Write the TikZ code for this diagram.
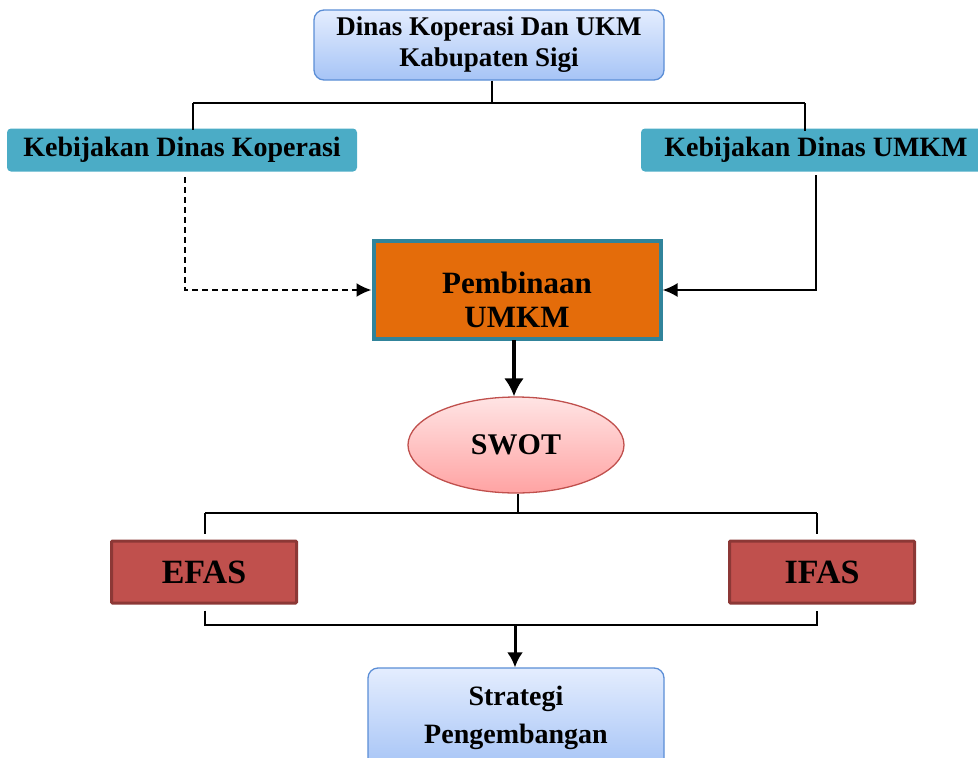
\documentclass[tikz,border=0pt]{standalone}
\usepackage{fontspec}
\setmainfont{Liberation Serif}
\usetikzlibrary{arrows.meta,positioning,shapes.geometric}
\definecolor{OfficeTop}{HTML}{E4EDFE}
\definecolor{OfficeBot}{HTML}{A6C4F6}
\definecolor{OfficeLine}{HTML}{5B8ED6}
\definecolor{PolicyTeal}{HTML}{4BACC6}
\definecolor{CoachOrange}{HTML}{E46C0A}
\definecolor{CoachRim}{HTML}{31849B}
\definecolor{SwotTop}{HTML}{FFE4E4}
\definecolor{SwotBot}{HTML}{FFA3A3}
\definecolor{SwotLine}{HTML}{C0504D}
\definecolor{FasFill}{HTML}{C0504D}
\definecolor{FasRim}{HTML}{8C3836}

\begin{document}
\begin{tikzpicture}[x=1pt,y=-1pt,>=Latex]
\tikzset{
  office/.style={draw=OfficeLine,line width=1.3pt,rounded corners=10pt,
                 top color=OfficeTop,bottom color=OfficeBot,align=center,
                 font=\bfseries\fontsize{27}{31}\selectfont},
  policy/.style={fill=PolicyTeal,rounded corners=4pt,minimum width=350pt,
                 minimum height=43pt,font=\bfseries\fontsize{28}{32}\selectfont},
  coach/.style={draw=CoachRim,line width=4pt,fill=CoachOrange,
                minimum width=287pt,minimum height=98pt},
  swot/.style={ellipse,draw=SwotLine,line width=1.3pt,top color=SwotTop,
               bottom color=SwotBot,minimum width=216pt,minimum height=96pt,
               font=\bfseries\fontsize{30}{34}\selectfont},
  fas/.style={draw=FasRim,line width=3pt,fill=FasFill,rounded corners=1pt,
              minimum width=185pt,minimum height=62pt,
              font=\bfseries\fontsize{34}{38}\selectfont},
  link/.style={line width=2.2pt},
  feed/.style={line width=2.2pt,-{Latex[length=15pt,width=14pt]}},
  bigflow/.style={line width=4pt,-{Latex[length=18pt,width=20pt]}}
}
\useasboundingbox (0,0) rectangle (978,758);
\clip (0,0) rectangle (978,758);

% ---------- office and policies -----------------------------------------
\node[office,minimum width=350pt,minimum height=70pt] (dinas) at (489,45)
  {Dinas Koperasi Dan UKM\\Kabupaten Sigi};
\node[policy] (polkop) at (182,150) {Kebijakan Dinas Koperasi};
\node[policy] (polumkm) at (816,150) {Kebijakan Dinas UMKM};

\coordinate (split) at (492,103);
\coordinate (splitl) at (193,103);
\coordinate (splitr) at (805,103);
\draw[link] (dinas.south -| split) -- (split);
\draw[link] (splitl) -- (splitr);
\draw[link] (splitl) -- ([yshift=-2pt]splitl |- polkop.north);
\draw[link] (splitr) -- ([yshift=-3pt]splitr |- polumkm.north);

% ---------- coaching ------------------------------------------------------
\node[coach,label={[yshift=-10pt,align=center,
      font=\bfseries\fontsize{31}{34}\selectfont]center:Pembinaan\\UMKM}]
  (pembinaan) at (517,290) {};

\coordinate (kopout) at (185,177);
\coordinate (umkmout) at (816,175);
\draw[feed,dashed,dash pattern=on 6pt off 4pt] (kopout) |- (pembinaan.west);
\draw[feed] (umkmout) |- (pembinaan.east);

% ---------- SWOT ---------------------------------------------------------
\node[swot] (swot) at (516,445) {SWOT};
\coordinate (drop) at (514,340);
\draw[bigflow] (drop) -- (drop |- swot.north);

\node[fas] (efas) at (204,572) {EFAS};
\node[fas] (ifas) at (822,572) {IFAS};

\coordinate (fork) at (518,513);
\coordinate (forkl) at (205,513);
\coordinate (forkr) at (817,513);
\draw[link] (swot.south -| fork) -- (fork);
\draw[link] (forkl) -- (forkr);
\draw[link] (forkl) -- ([yshift=6pt]forkl |- efas.north);
\draw[link] (forkr) -- ([yshift=6pt]forkr |- ifas.north);

\coordinate (joinl) at (205,625);
\coordinate (joinr) at (817,625);
\coordinate (join) at (515,625);
\draw[link] ([yshift=-6pt]joinl |- efas.south) -- (joinl) -- (joinr)
  -- ([yshift=-6pt]joinr |- ifas.south);

% ---------- strategy -------------------------------------------------------
\node[office,minimum width=296pt,minimum height=100pt,
      font=\bfseries\fontsize{28}{38}\selectfont] (strategi) at (516,718)
  {Strategi\\Pengembangan};
\draw[line width=3pt,-{Latex[length=15pt,width=16pt]}] (join) -- (join |- strategi.north);
\end{tikzpicture}
\end{document}
